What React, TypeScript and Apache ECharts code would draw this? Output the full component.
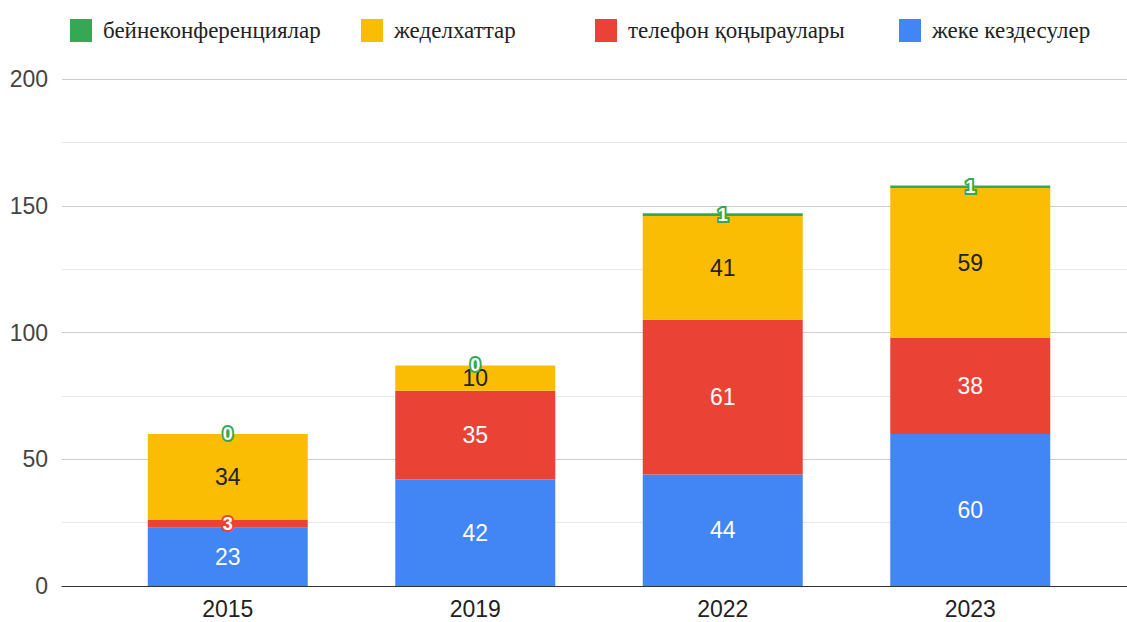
import React, { useEffect, useRef } from "react";
import * as echarts from "echarts";

const categories = ["2015", "2019", "2022", "2023"];
const meetings = [23, 42, 44, 60];
const calls = [3, 35, 61, 38];
const telegrams = [34, 10, 41, 59];
const video = [0, 0, 1, 1];

const names = {
  video: "бейнеконференциялар",
  telegrams: "жеделхаттар",
  calls: "телефон қоңыраулары",
  meetings: "жеке кездесулер",
};
const colors = {
  video: "#34A853",
  telegrams: "#FBBC04",
  calls: "#EA4335",
  meetings: "#4285F4",
};

const SANS = "Arial, 'Liberation Sans', sans-serif";
const SERIF = "'Liberation Serif', 'DejaVu Serif', serif";

function makeSeries(name: string, values: number[], color: string, dark: boolean) {
  return {
    name,
    type: "bar",
    stack: "total",
    xAxisIndex: 1,
    yAxisIndex: 1,
    barWidth: 160,
    itemStyle: { color },
    data: values.map((v) => ({
      value: v,
      label: v < 5 ? { fontSize: 18, fontWeight: "bold", textBorderWidth: 4 } : { fontSize: 23 },
    })),
    label: {
      show: true,
      position: "inside",
      fontFamily: SANS,
      color: dark ? "#222" : "#fff",
      textBorderColor: color,
      textBorderWidth: 3,
    },
  };
}

export default function App() {
  const ref = useRef<HTMLDivElement>(null);
  useEffect(() => {
    const chart = echarts.init(ref.current!, null, { renderer: "svg" });
    const legendItem = (name: string, left: number) => ({
      data: [name],
      left,
      top: 19,
      padding: 0,
      icon: "rect",
      itemWidth: 22,
      itemHeight: 23,
      selectedMode: false,
      textStyle: {
        fontFamily: SERIF,
        fontSize: 23,
        color: "#222",
        padding: [0, 0, 0, 6],
      },
    });
    chart.setOption({
      animation: false,
      backgroundColor: "#fff",
      legend: [
        legendItem(names.video, 70),
        legendItem(names.telegrams, 361),
        legendItem(names.calls, 595),
        legendItem(names.meetings, 899),
      ],
      grid: [
        { left: 62, right: 0, top: 79, bottom: 36 },
        { left: 104, width: 990, top: 79, bottom: 36 },
      ],
      xAxis: [
        {
          type: "value",
          gridIndex: 0,
          min: 0,
          max: 1,
          axisLabel: { show: false },
          axisTick: { show: false },
          splitLine: { show: false },
          axisLine: { show: true, lineStyle: { color: "#333", width: 1 } },
        },
        {
          type: "category",
          gridIndex: 1,
          data: categories,
          axisLine: { show: false },
          axisTick: { show: false },
          axisLabel: { fontFamily: SANS, fontSize: 23, color: "#222", margin: 11 },
        },
      ],
      yAxis: [
        {
          type: "value",
          gridIndex: 0,
          min: 0,
          max: 200,
          interval: 50,
          axisLine: { show: false },
          axisTick: { show: false },
          axisLabel: { fontFamily: SANS, fontSize: 23, color: "#444", margin: 14 },
          splitLine: { lineStyle: { color: "#cccccc", width: 1 } },
          minorTick: { show: false, splitNumber: 2 },
          minorSplitLine: { show: true, lineStyle: { color: "#e8e8e8", width: 1 } },
        },
        {
          type: "value",
          gridIndex: 1,
          min: 0,
          max: 200,
          interval: 50,
          show: false,
          splitLine: { show: false },
        },
      ],
      series: [
        makeSeries(names.meetings, meetings, colors.meetings, false),
        makeSeries(names.calls, calls, colors.calls, false),
        makeSeries(names.telegrams, telegrams, colors.telegrams, true),
        makeSeries(names.video, video, colors.video, false),
      ],
    });
    return () => chart.dispose();
  }, []);
  return (
    <div
      ref={ref}
      style={{ position: "absolute", left: 0, top: 0, width: 1127, height: 622 }}
    />
  );
}
